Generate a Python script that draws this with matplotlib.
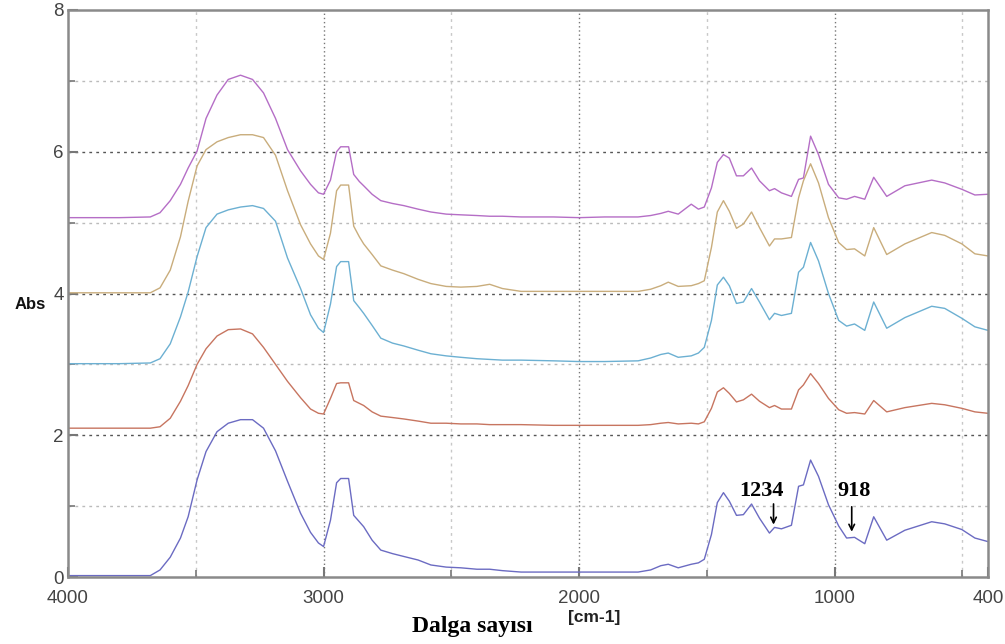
import matplotlib.pyplot as plt
from matplotlib.ticker import FixedLocator, MultipleLocator

plt.rcParams["font.family"] = ["Liberation Sans", "DejaVu Sans"]

# wavenumber grid (cm-1) and absorbance of the five stacked spectra
wavenumber = [4000, 3800, 3678, 3640, 3600, 3560, 3530, 3495, 3460, 3417, 3373, 3325, 3278, 3235,
              3188, 3141, 3090, 3051, 3020, 3000, 2973, 2949, 2933, 2902, 2882, 2860, 2843, 2810,
              2776, 2730, 2686, 2630, 2580, 2520, 2463, 2400, 2350, 2300, 2227, 2100, 2000, 1900,
              1769, 1720, 1680, 1651, 1612, 1561, 1533, 1510, 1482, 1459, 1435, 1412, 1384, 1357,
              1325, 1294, 1255, 1235, 1208, 1169, 1141, 1122, 1094, 1063, 1024, 984, 953, 922,
              882, 847, 796, 725, 620, 569, 502, 451, 400]

abs_purple = [5.07, 5.07, 5.08, 5.14, 5.31, 5.54, 5.77, 6.01, 6.47, 6.80, 7.02, 7.08, 7.02, 6.83,
              6.47, 6.03, 5.73, 5.54, 5.42, 5.40, 5.60, 6.00, 6.07, 6.07, 5.68, 5.58, 5.52, 5.40,
              5.31, 5.27, 5.24, 5.19, 5.15, 5.12, 5.11, 5.10, 5.09, 5.09, 5.08, 5.08, 5.07, 5.08,
              5.08, 5.10, 5.13, 5.16, 5.12, 5.26, 5.19, 5.22, 5.49, 5.85, 5.96, 5.91, 5.66, 5.66,
              5.77, 5.59, 5.45, 5.48, 5.42, 5.37, 5.61, 5.63, 6.22, 5.96, 5.54, 5.35, 5.33, 5.37,
              5.33, 5.64, 5.37, 5.52, 5.60, 5.56, 5.47, 5.39, 5.40]

abs_tan = [4.01, 4.01, 4.01, 4.08, 4.33, 4.80, 5.30, 5.80, 6.03, 6.14, 6.20, 6.24, 6.24, 6.20,
           5.95, 5.45, 4.97, 4.70, 4.53, 4.48, 4.85, 5.45, 5.53, 5.53, 4.95, 4.80, 4.70, 4.55,
           4.39, 4.33, 4.28, 4.20, 4.14, 4.10, 4.09, 4.10, 4.13, 4.07, 4.03, 4.03, 4.03, 4.03,
           4.03, 4.06, 4.11, 4.16, 4.10, 4.11, 4.14, 4.18, 4.65, 5.15, 5.31, 5.16, 4.92, 4.98,
           5.15, 4.93, 4.67, 4.77, 4.77, 4.79, 5.35, 5.59, 5.83, 5.56, 5.07, 4.72, 4.62, 4.63,
           4.53, 4.93, 4.55, 4.70, 4.86, 4.82, 4.70, 4.56, 4.53]

abs_blue = [3.01, 3.01, 3.02, 3.08, 3.29, 3.67, 4.02, 4.52, 4.93, 5.12, 5.18, 5.22, 5.24, 5.20,
            5.02, 4.50, 4.07, 3.70, 3.51, 3.45, 3.85, 4.38, 4.45, 4.45, 3.90, 3.80, 3.72, 3.55,
            3.37, 3.30, 3.26, 3.20, 3.15, 3.12, 3.10, 3.08, 3.07, 3.06, 3.06, 3.05, 3.04, 3.04,
            3.05, 3.09, 3.14, 3.16, 3.10, 3.12, 3.16, 3.24, 3.62, 4.12, 4.23, 4.11, 3.86, 3.88,
            4.07, 3.88, 3.63, 3.72, 3.69, 3.72, 4.30, 4.37, 4.72, 4.46, 4.00, 3.62, 3.54, 3.57,
            3.48, 3.88, 3.51, 3.66, 3.82, 3.79, 3.65, 3.53, 3.48]

abs_red = [2.10, 2.10, 2.10, 2.12, 2.24, 2.48, 2.70, 3.00, 3.22, 3.40, 3.49, 3.50, 3.43, 3.24,
           3.00, 2.76, 2.53, 2.37, 2.31, 2.30, 2.52, 2.73, 2.74, 2.74, 2.49, 2.45, 2.42, 2.33,
           2.27, 2.25, 2.23, 2.20, 2.17, 2.17, 2.16, 2.16, 2.15, 2.15, 2.15, 2.14, 2.14, 2.14,
           2.14, 2.15, 2.17, 2.18, 2.16, 2.17, 2.16, 2.19, 2.38, 2.61, 2.67, 2.59, 2.47, 2.50,
           2.58, 2.48, 2.39, 2.42, 2.37, 2.37, 2.64, 2.71, 2.87, 2.73, 2.52, 2.36, 2.31, 2.32,
           2.30, 2.49, 2.33, 2.39, 2.45, 2.43, 2.38, 2.33, 2.31]

abs_violet = [0.02, 0.02, 0.02, 0.10, 0.28, 0.55, 0.85, 1.37, 1.77, 2.05, 2.17, 2.22, 2.22, 2.10,
              1.78, 1.35, 0.90, 0.63, 0.48, 0.43, 0.80, 1.33, 1.39, 1.39, 0.87, 0.78, 0.71, 0.52,
              0.38, 0.33, 0.29, 0.24, 0.17, 0.14, 0.13, 0.11, 0.11, 0.09, 0.07, 0.07, 0.07, 0.07,
              0.07, 0.10, 0.16, 0.18, 0.13, 0.18, 0.20, 0.25, 0.60, 1.05, 1.19, 1.07, 0.87, 0.88,
              1.03, 0.83, 0.62, 0.70, 0.68, 0.73, 1.28, 1.30, 1.65, 1.42, 1.02, 0.72, 0.55, 0.56,
              0.47, 0.85, 0.52, 0.66, 0.78, 0.75, 0.67, 0.55, 0.50]

series = [abs_purple, abs_tan, abs_blue, abs_red, abs_violet]
colors = ["#b56ec6", "#c9ad7c", "#6cb0d2", "#c77560", "#6b6bc2"]

fig = plt.figure(figsize=(10.05, 6.44), dpi=100)
ax = fig.add_axes([0.0677, 0.104, 0.9153, 0.8805])

# grid: major lines darker, half-way lines lighter
for v in [2, 4, 6]:
    ax.axhline(v, color="#555555", lw=1.0, ls=(0, (2, 3)), zorder=0)
for v in [1, 3, 5, 7]:
    ax.axhline(v, color="#bbbbbb", lw=1.0, ls=(0, (2, 3)), zorder=0)
for w in [3000, 2000, 1000]:
    ax.axvline(w, color="#777777", lw=1.0, ls=(0, (1, 2)), zorder=0)
for w in [3500, 2500, 1500, 500]:
    ax.axvline(w, color="#c8c8c8", lw=1.0, ls=(0, (2, 3)), zorder=0)

for y, c in zip(series, colors):
    ax.plot(wavenumber, y, color=c, lw=1.0, zorder=2)

ax.set_xlim(4000, 400)
ax.set_ylim(0, 8)

ax.xaxis.set_major_locator(FixedLocator([4000, 3000, 2000, 1000, 400]))
ax.xaxis.set_minor_locator(FixedLocator([3500, 2500, 1500, 500]))
ax.yaxis.set_major_locator(MultipleLocator(2))
ax.yaxis.set_minor_locator(MultipleLocator(1))
ax.tick_params(which="both", direction="in", color="#777777", labelcolor="#444444",
               labelsize=13.5, top=False, right=False)
ax.tick_params(which="major", length=7, width=1.5)
ax.tick_params(which="minor", length=5, width=1.2)
ax.tick_params(axis="x", pad=9)
ax.tick_params(axis="y", pad=3)
for sp in ax.spines.values():
    sp.set_color("#8a8a8a")
    sp.set_linewidth(1.8)
# nudge the "0" up a little so it clears the "4000" below it
ax.get_yticklabels()[0].set_verticalalignment("bottom")

fig.text(0.015, 0.527, "Abs", fontsize=12, fontweight="bold", color="#111111",
         va="center")
fig.text(0.47, 0.027, "Dalga sayısı", fontsize=17, fontweight="bold",
         family="Liberation Serif", ha="center", va="center")
fig.text(0.591, 0.041, "[cm-1]", fontsize=12.5, fontweight="bold", color="#222222",
         ha="center", va="center")

# marked bands on the bottom spectrum
ax.annotate("", xy=(1239, 0.70), xytext=(1239, 1.07),
            arrowprops=dict(arrowstyle="->", color="black", lw=1.2))
ax.text(1287, 1.21, "1234", fontsize=16, fontweight="bold", family="Liberation Serif",
        ha="center", va="center")
ax.annotate("", xy=(933, 0.60), xytext=(933, 1.03),
            arrowprops=dict(arrowstyle="->", color="black", lw=1.2))
ax.text(922, 1.21, "918", fontsize=16, fontweight="bold", family="Liberation Serif",
        ha="center", va="center")

fig.savefig("out.png", dpi=100)
